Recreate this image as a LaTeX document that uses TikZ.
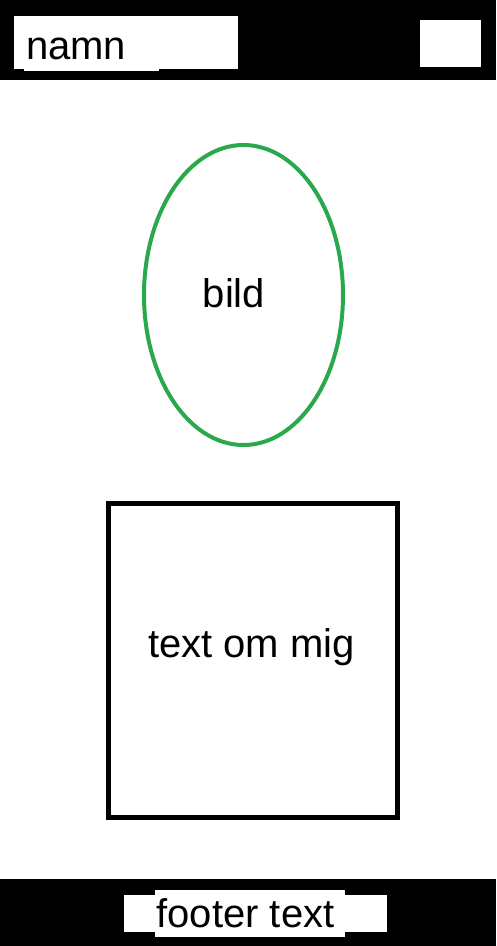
\documentclass[tikz,border=0pt]{standalone}
\usepackage{fontspec}
\setmainfont{Liberation Sans}
\usetikzlibrary{shapes.geometric}
\definecolor{photogreen}{RGB}{42,168,76}
\begin{document}
\begin{tikzpicture}[x=1pt,y=-1pt,
  every node/.style={inner sep=0pt,outer sep=0pt},
  label text/.style={anchor=base,font=\fontsize{40}{48}\selectfont}
]

\tikzstyle{bar}=[fill=black,rectangle]
\tikzstyle{blank}=[fill=white,rectangle]
\tikzstyle{photo}=[draw=photogreen,ellipse,line width=4pt]
\tikzstyle{textbox}=[draw=black,rectangle,line width=5pt]

\useasboundingbox (0,0) rectangle (496,946);

% header
\node [bar, minimum width=496pt, minimum height=80pt] (header) at (248,40) {};
\node [blank, minimum width=224pt, minimum height=53pt] (namebox) at (126,42.5) {};
\node [blank, minimum width=135pt, minimum height=12pt] (nameback) at (91.5,65) {};
\node [label text, anchor=base west] (namn) at (26,59) {namn};
\node [blank, minimum width=61pt, minimum height=47pt] (menu) at (450.5,43.5) {};

% picture
\node [photo, minimum width=199pt, minimum height=300pt] (bild) at (243.5,295) {};
\node [label text] (bildtext) at (234,307) {bild};

% about
\node [textbox, minimum width=289pt, minimum height=314pt] (about) at (253,660.5) {};
\node [label text] (abouttext) at (251.5,657) {text om mig};

% footer
\node [bar, minimum width=496pt, minimum height=67pt] (footer) at (248,912.5) {};
\node [blank, minimum width=263pt, minimum height=37pt] (footbox) at (255.5,913.5) {};
\node [blank, minimum width=190pt, minimum height=47pt] (footback) at (250,913.5) {};
\node [label text] (foottext) at (245.5,927) {footer text};
\end{tikzpicture}
\end{document}
